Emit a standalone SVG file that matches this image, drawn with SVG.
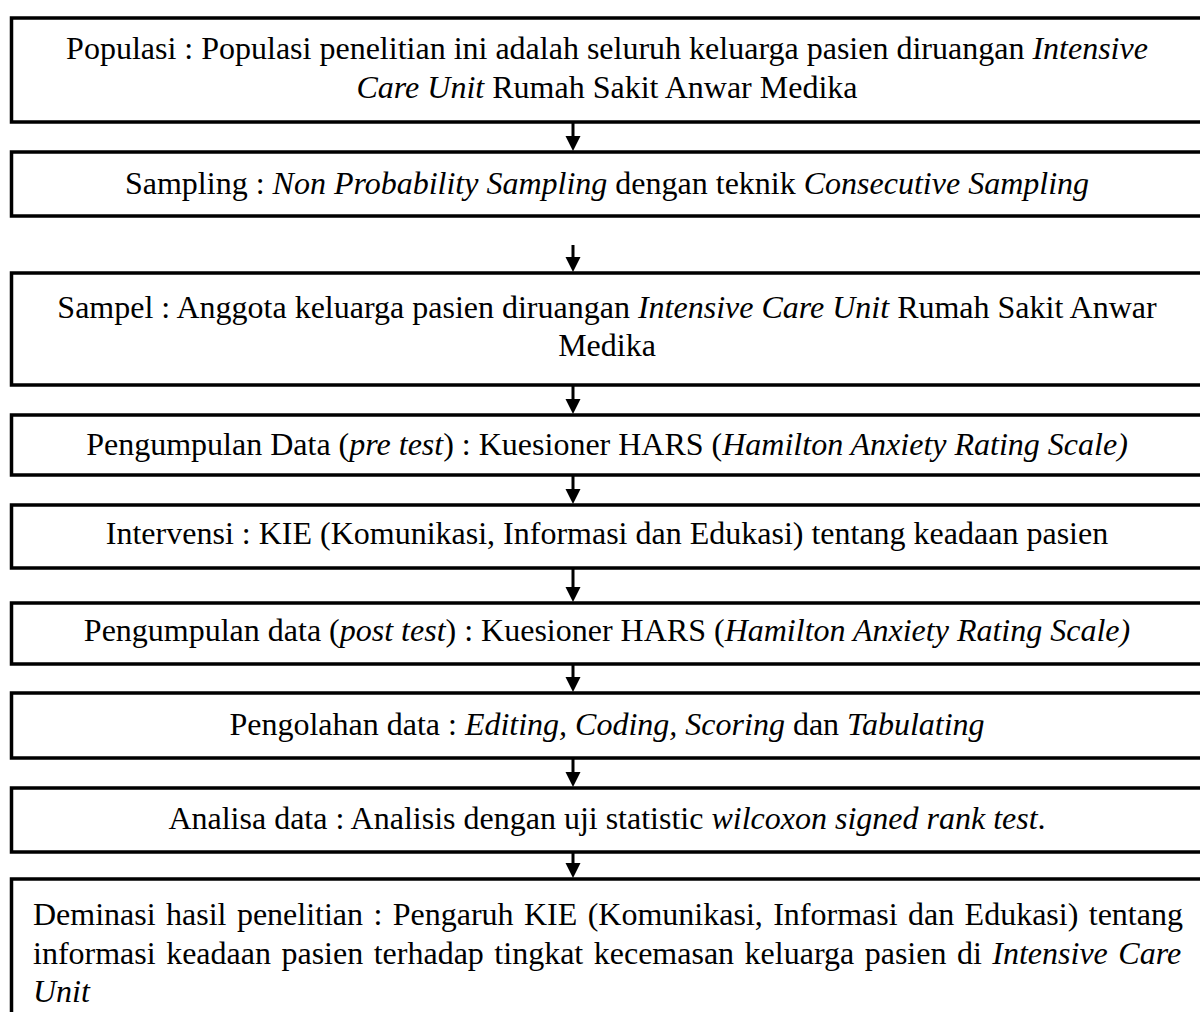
<svg xmlns="http://www.w3.org/2000/svg" width="1200" height="1012" viewBox="0 0 1200 1012">
<style>
.box{fill:#fff;stroke:#000;stroke-width:3.5}
.t{font-family:"Liberation Serif","Times New Roman",serif;font-size:32px;fill:#000}
.c{text-anchor:middle}
.i{font-style:italic}
.con{stroke:#000;stroke-width:3;fill:none}
</style>
<defs>
<marker id="ah" markerUnits="userSpaceOnUse" markerWidth="16" markerHeight="16" refX="11" refY="7.5" orient="auto">
<path d="M0,0 L15,7.5 L0,15 z" fill="#000"/>
</marker>
</defs>
<rect width="1200" height="1012" fill="#fff"/>
<g id="n1"><rect class="box" x="11.5" y="18" width="1196" height="104"/>
<text class="t c" x="607" y="59">Populasi : Populasi penelitian ini adalah seluruh keluarga pasien diruangan <tspan class="i">Intensive</tspan></text>
<text class="t c" x="607" y="98"><tspan class="i">Care Unit</tspan> Rumah Sakit Anwar Medika</text></g>
<g id="n2"><rect class="box" x="11.5" y="152" width="1196" height="64"/>
<text class="t c" x="607" y="194">Sampling : <tspan class="i">Non Probability Sampling</tspan> dengan teknik <tspan class="i">Consecutive Sampling</tspan></text></g>
<g id="n3"><rect class="box" x="11.5" y="273" width="1196" height="112"/>
<text class="t c" x="607" y="318">Sampel : Anggota keluarga pasien diruangan <tspan class="i">Intensive Care Unit</tspan> Rumah Sakit Anwar</text>
<text class="t c" x="607" y="356">Medika</text></g>
<g id="n4"><rect class="box" x="11.5" y="415" width="1196" height="60"/>
<text class="t c" x="607" y="455">Pengumpulan Data (<tspan class="i">pre test</tspan>) : Kuesioner HARS (<tspan class="i">Hamilton Anxiety Rating Scale)</tspan></text></g>
<g id="n5"><rect class="box" x="11.5" y="505" width="1196" height="63"/>
<text class="t c" x="607" y="544">Intervensi : KIE (Komunikasi, Informasi dan Edukasi) tentang keadaan pasien</text></g>
<g id="n6"><rect class="box" x="11.5" y="603" width="1196" height="61"/>
<text class="t c" x="607" y="641">Pengumpulan data (<tspan class="i">post test</tspan>) : Kuesioner HARS (<tspan class="i">Hamilton Anxiety Rating Scale)</tspan></text></g>
<g id="n7"><rect class="box" x="11.5" y="693" width="1196" height="65"/>
<text class="t c" x="607" y="735">Pengolahan data : <tspan class="i">Editing, Coding, Scoring</tspan> dan <tspan class="i">Tabulating</tspan></text></g>
<g id="n8"><rect class="box" x="11.5" y="788" width="1196" height="64"/>
<text class="t c" x="607" y="829">Analisa data : Analisis dengan uji statistic <tspan class="i">wilcoxon signed rank test</tspan>.</text></g>
<g id="n9"><rect class="box" x="11.5" y="879" width="1196" height="150"/>
<text class="t" x="33" y="925" word-spacing="2.4">Deminasi hasil penelitian : Pengaruh KIE (Komunikasi, Informasi dan Edukasi) tentang</text>
<text class="t" x="33" y="963.5" word-spacing="2.5">informasi keadaan pasien terhadap tingkat kecemasan keluarga pasien di <tspan class="i">Intensive Care</tspan></text>
<text class="t i" x="33" y="1002">Unit</text></g>
<g id="connectors">
<line class="con" x1="573" y1="122" x2="573" y2="147" marker-end="url(#ah)"/>
<line class="con" x1="573" y1="245" x2="573" y2="268" marker-end="url(#ah)"/>
<line class="con" x1="573" y1="385" x2="573" y2="410" marker-end="url(#ah)"/>
<line class="con" x1="573" y1="475" x2="573" y2="500" marker-end="url(#ah)"/>
<line class="con" x1="573" y1="568" x2="573" y2="598" marker-end="url(#ah)"/>
<line class="con" x1="573" y1="664" x2="573" y2="688" marker-end="url(#ah)"/>
<line class="con" x1="573" y1="758" x2="573" y2="783" marker-end="url(#ah)"/>
<line class="con" x1="573" y1="852" x2="573" y2="874" marker-end="url(#ah)"/>
</g>
</svg>
